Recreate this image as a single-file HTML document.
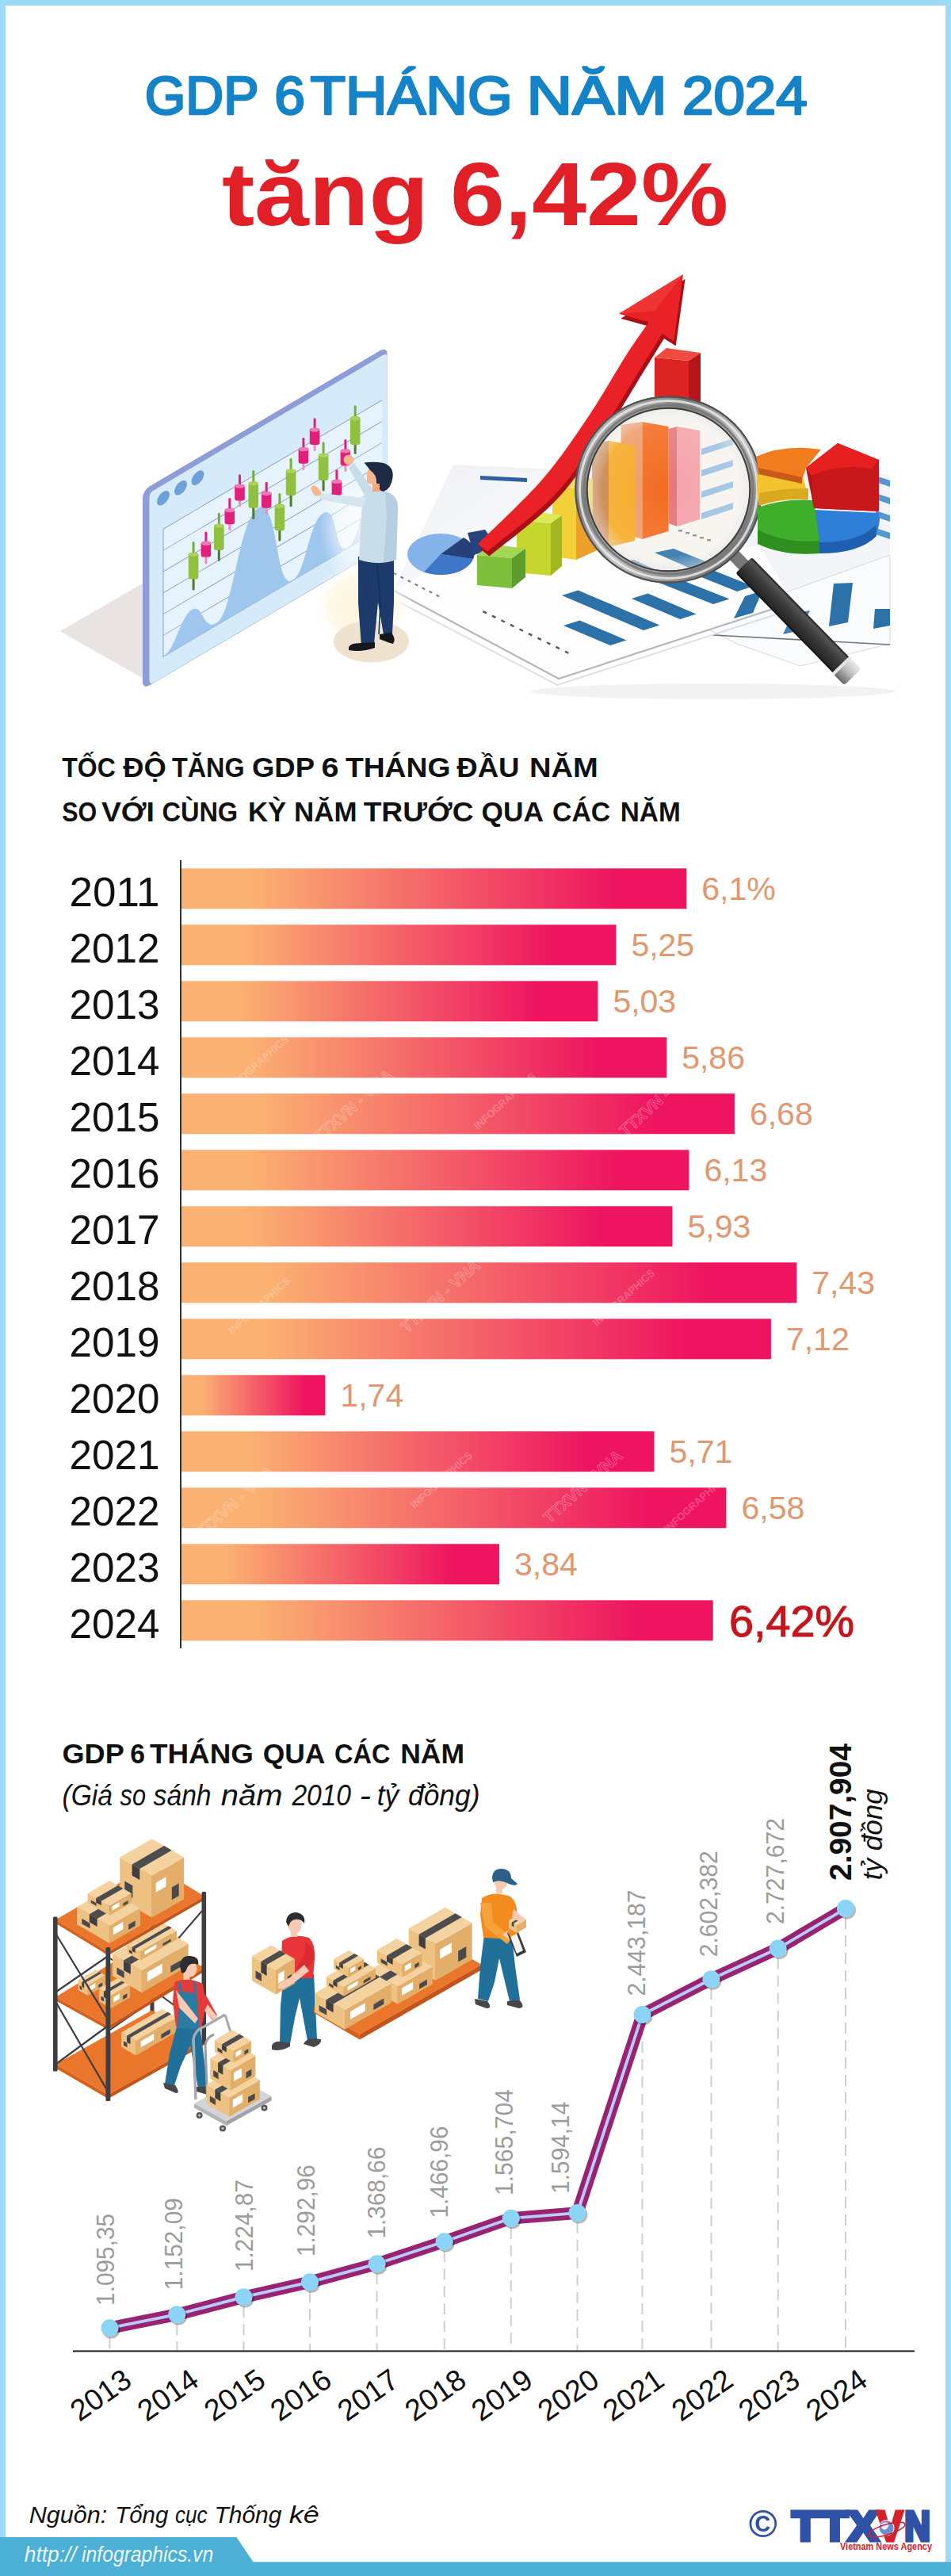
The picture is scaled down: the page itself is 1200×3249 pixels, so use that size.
<!DOCTYPE html>
<html lang="vi"><head><meta charset="utf-8"><title>GDP 6 tháng năm 2024 tăng 6,42%</title>
<style>html,body{margin:0;padding:0;background:#fff}body{width:1200px;height:3249px;overflow-x:hidden}svg{display:block}text{white-space:pre}</style>
</head><body>
<svg width="1200" height="3249" viewBox="0 0 1200 3249" font-family='"Liberation Sans", sans-serif'>
<rect x="0" y="0" width="1200" height="3249" fill="#9ddaf8"/>
<rect x="7" y="7" width="1186" height="3242" fill="#fff"/>
<text x="182.7" y="144.1" font-size="69" font-weight="normal" font-style="normal" fill="#1583c7" text-anchor="start" textLength="143.9" lengthAdjust="spacingAndGlyphs" stroke="#1583c7" stroke-width="2.7" stroke-linejoin="round">GDP</text>
<text x="346.2" y="144.1" font-size="69" font-weight="normal" font-style="normal" fill="#1583c7" text-anchor="start" textLength="38.7" lengthAdjust="spacingAndGlyphs" stroke="#1583c7" stroke-width="2.7" stroke-linejoin="round">6</text>
<text x="391.5" y="144.1" font-size="69" font-weight="normal" font-style="normal" fill="#1583c7" text-anchor="start" textLength="255.1" lengthAdjust="spacingAndGlyphs" stroke="#1583c7" stroke-width="2.7" stroke-linejoin="round">THÁNG</text>
<text x="664.4" y="144.1" font-size="69" font-weight="normal" font-style="normal" fill="#1583c7" text-anchor="start" textLength="177.5" lengthAdjust="spacingAndGlyphs" stroke="#1583c7" stroke-width="2.7" stroke-linejoin="round">NĂM</text>
<text x="861" y="144.1" font-size="69" font-weight="normal" font-style="normal" fill="#1583c7" text-anchor="start" textLength="157.7" lengthAdjust="spacingAndGlyphs" stroke="#1583c7" stroke-width="2.7" stroke-linejoin="round">2024</text>
<text x="279.9" y="283.9" font-size="113.5" font-weight="bold" font-style="normal" fill="#e11f26" text-anchor="start" textLength="261.1" lengthAdjust="spacingAndGlyphs" >tăng</text>
<text x="568" y="283.9" font-size="113.5" font-weight="bold" font-style="normal" fill="#e11f26" text-anchor="start" textLength="351" lengthAdjust="spacingAndGlyphs" >6,42%</text>
<g id="illus1">
<defs>
<linearGradient id="ringg" x1="0" y1="0" x2="1" y2="1"><stop offset="0" stop-color="#cfcfcf"/><stop offset="0.3" stop-color="#7e7e7e"/><stop offset="0.55" stop-color="#c4c4c4"/><stop offset="1" stop-color="#585858"/></linearGradient>
<linearGradient id="hand" x1="0" y1="0" x2="0" y2="1"><stop offset="0" stop-color="#1a1a1a"/><stop offset="0.12" stop-color="#555"/><stop offset="0.45" stop-color="#3c3c3c"/><stop offset="0.9" stop-color="#262626"/><stop offset="1" stop-color="#0a0a0a"/></linearGradient>
<linearGradient id="capg" x1="0" y1="0" x2="0" y2="1"><stop offset="0" stop-color="#eee"/><stop offset="0.5" stop-color="#bbb"/><stop offset="1" stop-color="#666"/></linearGradient>
<radialGradient id="lensg" cx="0.5" cy="0.5" r="0.5"><stop offset="0" stop-color="#fff" stop-opacity="0.0"/><stop offset="0.8" stop-color="#fff" stop-opacity="0.12"/><stop offset="1" stop-color="#e0e0e0" stop-opacity="0.6"/></radialGradient>
<radialGradient id="glow" cx="0.5" cy="0.5" r="0.5"><stop offset="0" stop-color="#fdf3d6" stop-opacity="0.95"/><stop offset="0.65" stop-color="#fdf6e2" stop-opacity="0.75"/><stop offset="1" stop-color="#fff" stop-opacity="0"/></radialGradient>
<radialGradient id="wglow" cx="0.5" cy="0.5" r="0.5"><stop offset="0" stop-color="#fff" stop-opacity="0.75"/><stop offset="0.6" stop-color="#fff" stop-opacity="0.5"/><stop offset="1" stop-color="#fff" stop-opacity="0"/></radialGradient>
<linearGradient id="papg" x1="0" y1="0" x2="1" y2="1"><stop offset="0" stop-color="#eef0f5"/><stop offset="1" stop-color="#ffffff"/></linearGradient>
<clipPath id="lensclip"><circle cx="843.5" cy="617.5" r="104"/></clipPath>
</defs>
<polygon points="75.7,796.2 180.4,735.6 180.4,855.5" fill="#e9e4e1"/>
<ellipse cx="900" cy="872" rx="230" ry="10" fill="#000" opacity="0.05"/>
<polygon points="572,586 700,592 640,700 498,742" fill="#f0f2f6"/>
<polygon points="498,745 570,590 720,596 700,700" fill="url(#papg)" opacity="0.9"/>
<polygon points="930,560 1123,600 1123,760 880,790" fill="#f3f4f8"/>
<polygon points="880,787 1123,700 1123,812 1010,840 930,812" fill="#fafbfd" stroke="#d8dade" stroke-width="1"/>
<polyline points="900,801 1123,813" fill="none" stroke="#555" stroke-width="1.6" opacity="0.8"/>
<polygon points="497,744 600,690 960,690 1000,760 705,856" fill="#fdfdfe"/>
<polyline points="497,745 705,856 1000,760" fill="none" stroke="#9aa0a8" stroke-width="2.2" opacity="0.75"/>
<polyline points="505,760 703,864 1010,765" fill="none" stroke="#c9ccd2" stroke-width="2" opacity="0.6"/>
<polygon points="606,600 665,603 665,608 606,605" fill="#2c5f9e"/>
<ellipse cx="556" cy="699" rx="42" ry="26" fill="#84b3ea"/>
<path d="M556 699 L585 678 A42 26 0 0 1 597 705 Z" fill="#26407a"/>
<path d="M556 699 L597 705 A42 26 0 0 1 535 721.5 Z" fill="#3f77c8"/>
<polygon points="590,672 612,668 628,690 598,700" fill="#27447f"/>
<rect x="610.0" y="770.0" width="5" height="2.4" fill="#555" transform="rotate(27 610.0 770.0)"/>
<rect x="621.5" y="775.6" width="5" height="2.4" fill="#555" transform="rotate(27 621.5 775.6)"/>
<rect x="633.0" y="781.2" width="5" height="2.4" fill="#555" transform="rotate(27 633.0 781.2)"/>
<rect x="644.5" y="786.8" width="5" height="2.4" fill="#555" transform="rotate(27 644.5 786.8)"/>
<rect x="656.0" y="792.4" width="5" height="2.4" fill="#555" transform="rotate(27 656.0 792.4)"/>
<rect x="667.5" y="798.0" width="5" height="2.4" fill="#555" transform="rotate(27 667.5 798.0)"/>
<rect x="679.0" y="803.6" width="5" height="2.4" fill="#555" transform="rotate(27 679.0 803.6)"/>
<rect x="690.5" y="809.2" width="5" height="2.4" fill="#555" transform="rotate(27 690.5 809.2)"/>
<rect x="702.0" y="814.8" width="5" height="2.4" fill="#555" transform="rotate(27 702.0 814.8)"/>
<rect x="713.5" y="820.4" width="5" height="2.4" fill="#555" transform="rotate(27 713.5 820.4)"/>
<rect x="497.0" y="722.0" width="4" height="2" fill="#777" transform="rotate(27 497.0 722.0)"/>
<rect x="506.0" y="726.6" width="4" height="2" fill="#777" transform="rotate(27 506.0 726.6)"/>
<rect x="515.0" y="731.2" width="4" height="2" fill="#777" transform="rotate(27 515.0 731.2)"/>
<rect x="524.0" y="735.8" width="4" height="2" fill="#777" transform="rotate(27 524.0 735.8)"/>
<rect x="533.0" y="740.4" width="4" height="2" fill="#777" transform="rotate(27 533.0 740.4)"/>
<rect x="542.0" y="745.0" width="4" height="2" fill="#777" transform="rotate(27 542.0 745.0)"/>
<rect x="551.0" y="749.6" width="4" height="2" fill="#777" transform="rotate(27 551.0 749.6)"/>
<polygon points="709,751 729.5,744.4 832.5,788.4 812,795" fill="#2c72a8"/>
<polygon points="711,789 731.5,782.4 790.5,807.4 770,814" fill="#2c72a8"/>
<polygon points="797,755 817.5,748.4 878.5,774.4 858,781" fill="#2c72a8"/>
<polygon points="829,734 849.5,727.4 920.5,755.4 900,762" fill="#2c72a8"/>
<polygon points="870,722 890.5,715.4 950.5,739.4 930,746" fill="#2c72a8"/>
<polygon points="926,780 950,773 962,745 940,752" fill="#2c72a8"/>
<polygon points="1046,790 1070,785 1076,735 1052,736" fill="#2c72a8"/>
<polygon points="1102,793 1123,789 1123,768 1104,768" fill="#2c72a8"/>
<polygon points="988,800 1010,795 1022,770 1000,774" fill="#2c72a8" opacity="0.9"/>
<polygon points="1105,600 1123,606 1123,614 1105,608" fill="#3a86c8" opacity="0.85"/>
<polygon points="1105,622 1123,628 1123,636 1105,630" fill="#3a86c8" opacity="0.85"/>
<polygon points="1105,644 1123,650 1123,658 1105,652" fill="#3a86c8" opacity="0.85"/>
<polygon points="1105,666 1123,672 1123,680 1105,674" fill="#3a86c8" opacity="0.85"/>
<polygon points="884,585 930,572 930,580 884,593" fill="#8db9e0" opacity="0.5"/>
<polygon points="884,607 930,594 930,602 884,615" fill="#8db9e0" opacity="0.5"/>
<polygon points="884,629 930,616 930,624 884,637" fill="#8db9e0" opacity="0.5"/>
<g transform="matrix(1,-0.589,0,1,181,618)">
<rect x="-1" y="0" width="308.5" height="251" rx="9" fill="#8e9dd8"/>
<rect x="7.5" y="8" width="300" height="242.5" rx="5" fill="#d6ebfa"/>
<circle cx="25" cy="25" r="8" fill="#6e9fdb"/>
<circle cx="47" cy="25" r="8" fill="#6e9fdb"/>
<circle cx="68.5" cy="25" r="8" fill="#6e9fdb"/>
<rect x="25" y="64" width="276" height="161" fill="#e6f3fc"/>
<line x1="25" y1="64.0" x2="301" y2="64.0" stroke="#7f95d4" stroke-width="0.9"/>
<line x1="25" y1="90.8" x2="301" y2="90.8" stroke="#7f95d4" stroke-width="0.9"/>
<line x1="25" y1="117.7" x2="301" y2="117.7" stroke="#7f95d4" stroke-width="0.9"/>
<line x1="25" y1="144.5" x2="301" y2="144.5" stroke="#7f95d4" stroke-width="0.9"/>
<line x1="25" y1="171.3" x2="301" y2="171.3" stroke="#7f95d4" stroke-width="0.9"/>
<line x1="25" y1="198.1" x2="301" y2="198.1" stroke="#7f95d4" stroke-width="0.9"/>
<line x1="25" y1="225.0" x2="301" y2="225.0" stroke="#7f95d4" stroke-width="0.9"/>
<line x1="25" y1="64" x2="25" y2="225" stroke="#7f95d4" stroke-width="0.9"/>
<path d="M25,225 C40,225 47,187 61,187 C76,187 74,222 92,222 C114,222 120,108 145,108 C170,108 166,225 188,225 C206,225 208,163 227,163 C246,163 240,225 258,225 C272,225 276,172 290,172 L301,172 L301,225 Z" fill="#9fc7ed"/>
</g>
<ellipse cx="452" cy="665" rx="48" ry="75" fill="url(#wglow)"/>
<ellipse cx="458" cy="765" rx="64" ry="56" fill="url(#glow)"/>
<rect x="242.6" y="683.1" width="3" height="16.2" rx="1.5" fill="#79ad33"/>
<rect x="242.6" y="728.4" width="3" height="16.2" rx="1.5" fill="#4f7d22"/>
<rect x="237.8" y="697.3" width="12.6" height="33.1" rx="3" fill="#8fc03f"/>
<ellipse cx="244.1" cy="699.5" rx="6.3" ry="2.6" fill="#a9d35a"/>
<rect x="258.4" y="670.5" width="3" height="14.6" rx="1.5" fill="#e0207c"/>
<rect x="258.4" y="700.6" width="3" height="10.9" rx="1.5" fill="#f48cc0"/>
<rect x="253.6" y="683.1" width="12.6" height="19.5" rx="3" fill="#e0207c"/>
<ellipse cx="259.9" cy="685.3" rx="6.3" ry="2.6" fill="#f07ab6"/>
<rect x="274.8" y="646.8" width="3" height="16.2" rx="1.5" fill="#79ad33"/>
<rect x="274.8" y="692.1" width="3" height="15.6" rx="1.5" fill="#4f7d22"/>
<rect x="270.0" y="661.0" width="12.6" height="33.1" rx="3" fill="#8fc03f"/>
<ellipse cx="276.3" cy="663.2" rx="6.3" ry="2.6" fill="#a9d35a"/>
<rect x="288.3" y="628.0" width="3" height="15.5" rx="1.5" fill="#e0207c"/>
<rect x="288.3" y="659.2" width="3" height="9.8" rx="1.5" fill="#f48cc0"/>
<rect x="283.5" y="641.5" width="12.6" height="19.7" rx="3" fill="#e0207c"/>
<ellipse cx="289.8" cy="643.7" rx="6.3" ry="2.6" fill="#f07ab6"/>
<rect x="301.0" y="598.2" width="3" height="14.7" rx="1.5" fill="#e0207c"/>
<rect x="301.0" y="629.4" width="3" height="9.8" rx="1.5" fill="#f48cc0"/>
<rect x="296.2" y="610.9" width="12.6" height="20.5" rx="3" fill="#e0207c"/>
<ellipse cx="302.5" cy="613.1" rx="6.3" ry="2.6" fill="#f07ab6"/>
<rect x="318.3" y="592.9" width="3" height="16.8" rx="1.5" fill="#79ad33"/>
<rect x="318.3" y="638.8" width="3" height="16.2" rx="1.5" fill="#4f7d22"/>
<rect x="313.5" y="607.7" width="12.6" height="33.1" rx="3" fill="#8fc03f"/>
<ellipse cx="319.8" cy="609.9" rx="6.3" ry="2.6" fill="#a9d35a"/>
<rect x="334.7" y="607.7" width="3" height="14.6" rx="1.5" fill="#e0207c"/>
<rect x="334.7" y="638.8" width="3" height="9.9" rx="1.5" fill="#f48cc0"/>
<rect x="329.9" y="620.3" width="12.6" height="20.5" rx="3" fill="#e0207c"/>
<ellipse cx="336.2" cy="622.5" rx="6.3" ry="2.6" fill="#f07ab6"/>
<rect x="351.4" y="621.9" width="3" height="16.2" rx="1.5" fill="#79ad33"/>
<rect x="351.4" y="667.2" width="3" height="15.3" rx="1.5" fill="#4f7d22"/>
<rect x="346.6" y="636.1" width="12.6" height="33.1" rx="3" fill="#8fc03f"/>
<ellipse cx="352.9" cy="638.3" rx="6.3" ry="2.6" fill="#a9d35a"/>
<rect x="365.6" y="577.7" width="3" height="16.2" rx="1.5" fill="#79ad33"/>
<rect x="365.6" y="623.0" width="3" height="16.2" rx="1.5" fill="#4f7d22"/>
<rect x="360.8" y="591.9" width="12.6" height="33.1" rx="3" fill="#8fc03f"/>
<ellipse cx="367.1" cy="594.1" rx="6.3" ry="2.6" fill="#a9d35a"/>
<rect x="381.4" y="551.9" width="3" height="14.6" rx="1.5" fill="#e0207c"/>
<rect x="381.4" y="582.7" width="3" height="10.2" rx="1.5" fill="#f48cc0"/>
<rect x="376.6" y="564.5" width="12.6" height="20.2" rx="3" fill="#e0207c"/>
<ellipse cx="382.9" cy="566.7" rx="6.3" ry="2.6" fill="#f07ab6"/>
<rect x="395.6" y="527.3" width="3" height="14.6" rx="1.5" fill="#e0207c"/>
<rect x="395.6" y="559.0" width="3" height="9.9" rx="1.5" fill="#f48cc0"/>
<rect x="390.8" y="539.9" width="12.6" height="21.1" rx="3" fill="#e0207c"/>
<ellipse cx="397.1" cy="542.1" rx="6.3" ry="2.6" fill="#f07ab6"/>
<rect x="406.6" y="557.2" width="3" height="16.9" rx="1.5" fill="#79ad33"/>
<rect x="406.6" y="604.1" width="3" height="15.3" rx="1.5" fill="#4f7d22"/>
<rect x="401.8" y="572.1" width="12.6" height="34.0" rx="3" fill="#8fc03f"/>
<ellipse cx="408.1" cy="574.3" rx="6.3" ry="2.6" fill="#a9d35a"/>
<rect x="423.4" y="591.9" width="3" height="15.3" rx="1.5" fill="#e0207c"/>
<rect x="423.4" y="623.0" width="3" height="9.9" rx="1.5" fill="#f48cc0"/>
<rect x="418.6" y="605.2" width="12.6" height="19.8" rx="3" fill="#e0207c"/>
<ellipse cx="424.9" cy="607.4" rx="6.3" ry="2.6" fill="#f07ab6"/>
<rect x="434.4" y="554.1" width="3" height="14.6" rx="1.5" fill="#e0207c"/>
<rect x="434.4" y="585.2" width="3" height="9.8" rx="1.5" fill="#f48cc0"/>
<rect x="429.6" y="566.7" width="12.6" height="20.5" rx="3" fill="#e0207c"/>
<ellipse cx="435.9" cy="568.9" rx="6.3" ry="2.6" fill="#f07ab6"/>
<rect x="446.7" y="511.2" width="3" height="16.2" rx="1.5" fill="#79ad33"/>
<rect x="446.7" y="558.9" width="3" height="13.8" rx="1.5" fill="#4f7d22"/>
<rect x="441.9" y="525.4" width="12.6" height="35.5" rx="3" fill="#8fc03f"/>
<ellipse cx="448.2" cy="527.6" rx="6.3" ry="2.6" fill="#a9d35a"/>
<ellipse cx="468.5" cy="809" rx="47.5" ry="26.5" fill="#efe3cf"/>
<path d="M452 702 L497 700 L497 760 L495 800 L485 806 L477 760 L472 812 L456 816 L452 760 Z" fill="#1c3a6b"/>
<path d="M476 712 L480 760 L478 800" stroke="#15305a" stroke-width="1.5" fill="none"/>
<path d="M440 817 Q441 811 456 811 L473 810 L473 817 Q456 823 440 820 Z" fill="#15171c"/>
<path d="M479 800 L494 798 Q500 806 496 812 Q488 810 479 806 Z" fill="#15171c"/>
<path d="M458 626 Q470 618 486 620 Q502 624 502 640 L500 706 Q478 714 453 706 L456 650 Z" fill="#c9dde9"/>
<path d="M486 620 Q502 624 502 640 L500 706 Q492 709 484 709 L488 650 Z" fill="#b5cfe0"/>
<path d="M462 628 L440 590 L447 584 L474 622 Z" fill="#c9dde9"/>
<path d="M458 640 L404 630 L402 622 L462 628 Z" fill="#d6e6ef"/>
<circle cx="440" cy="580" r="6.5" fill="#f5b78e"/>
<path d="M392 616 q2 -6 8 -2 l6 8 q-4 6 -10 2 Z" fill="#f5b78e"/>
<path d="M463 600 q0 -10 8 -13 l4 22 q-8 4 -12 -2 Z" fill="#f5b78e"/>
<path d="M459.5 583.5 Q472 582 484 584 Q497 588 495.5 602 Q494 616 484 620 Q476 618 475 609 Q475 598 468 594 Z" fill="#1f2a44"/>
<rect x="470" y="610" width="9" height="10" fill="#f0a97c"/>
<polygon points="826,451 869,455 869,668 826,664" fill="#dc2424"/>
<polygon points="869,455 884,445 884,656 869,668" fill="#b31519"/>
<polygon points="826,451 841,439 884,445 869,455" fill="#ef4b41"/>
<polygon points="697,612 727,616 727,706 697,702" fill="#f3cf3a"/>
<polygon points="727,616 756,605 756,693 727,706" fill="#eda12a"/>
<polygon points="697,612 726,599 756,605 727,616" fill="#f8e070"/>
<polygon points="652,656 695,660 695,726 652,722" fill="#c6d62f"/>
<polygon points="695,660 709,650 709,714 695,726" fill="#a3b51f"/>
<polygon points="652,656 666,644 709,650 695,660" fill="#dbe85a"/>
<polygon points="602,700 646,704 646,742 602,738" fill="#7dbe3b"/>
<polygon points="646,704 663,692 663,728 646,742" fill="#5d9d2b"/>
<polygon points="602,700 619,686 663,692 646,704" fill="#a4d653"/>
<g clip-path="url(#lensclip)">
<circle cx="843.5" cy="617.5" r="105" fill="#f7f4ef"/>
<polygon points="885,566 925,553 925,561 885,574" fill="#7fb2de" opacity="0.75"/>
<polygon points="885,593 925,580 925,588 885,601" fill="#7fb2de" opacity="0.75"/>
<polygon points="885,620 925,607 925,615 885,628" fill="#7fb2de" opacity="0.75"/>
<polygon points="885,647 925,634 925,642 885,655" fill="#7fb2de" opacity="0.75"/>
<polygon points="826,697 850,692 900,712 876,719" fill="#2c72a8"/>
<polygon points="770,712 800,706 860,734 830,742" fill="#2c72a8" opacity="0.85"/>
<rect x="856" y="668" width="5" height="2.5" fill="#666" opacity="0.7"/>
<rect x="865" y="671" width="5" height="2.5" fill="#666" opacity="0.7"/>
<rect x="874" y="674" width="5" height="2.5" fill="#666" opacity="0.7"/>
<rect x="883" y="677" width="5" height="2.5" fill="#666" opacity="0.7"/>
<rect x="892" y="680" width="5" height="2.5" fill="#666" opacity="0.7"/>
<polygon points="843.5,541 854.6,538 854.6,664 843.5,660" fill="#e57878"/>
<polygon points="854.6,538 883,543 883,655 854.6,664" fill="#f4a3aa"/>
<polygon points="783.6,536 810.4,532 810.4,680 783.6,672" fill="#ee9c68"/>
<polygon points="810.4,532 843.5,538 843.5,670 810.4,680" fill="#f26c20"/>
<polygon points="747,560 768,556 768,690 747,680" fill="#c7834a"/>
<polygon points="768,556 801,562 801,682 768,690" fill="#f7a925"/>
<polygon points="730,600 748,604 748,690 730,690" fill="#f3cf3a" opacity="0.9"/>
<circle cx="843.5" cy="617.5" r="105" fill="url(#lensg)"/>
</g>
<path d="M603,686 C616.6,672.4 661.2,631.4 684.5,604.5 C707.8,577.6 725.5,550.4 743.0,524.5 C760.5,498.6 776.9,468.7 789.5,449.0 C802.1,429.3 813.8,413.3 818.7,406.2 L780.8,395.7 L862,346.1 L850.2,430.2 L835.5,421 C831.4,427.6 823.2,440.9 811.0,460.5 C798.8,480.1 780.8,511.4 762.5,538.5 C744.2,565.6 725.6,596.8 701.0,623.0 C676.4,649.2 629.3,683.4 615.0,695.5 Z" fill="#a91016" transform="translate(2.5,6)"/>
<path d="M603,686 C616.6,672.4 661.2,631.4 684.5,604.5 C707.8,577.6 725.5,550.4 743.0,524.5 C760.5,498.6 776.9,468.7 789.5,449.0 C802.1,429.3 813.8,413.3 818.7,406.2 L780.8,395.7 L862,346.1 L850.2,430.2 L835.5,421 C831.4,427.6 823.2,440.9 811.0,460.5 C798.8,480.1 780.8,511.4 762.5,538.5 C744.2,565.6 725.6,596.8 701.0,623.0 C676.4,649.2 629.3,683.4 615.0,695.5 Z" fill="#ea2227"/>
<path d="M780.8,395.7 L862,346.1 L826,392 Z" fill="#f0443f" opacity="0.55"/>
<g transform="translate(935.7,710) rotate(45.7)">
<rect x="-14" y="-8" width="26" height="16" fill="#777"/>
<rect x="4" y="-14.2" width="180" height="28.4" rx="3" fill="url(#hand)"/>
<rect x="181" y="-15" width="20" height="30" rx="4" fill="url(#capg)"/>
<rect x="179" y="-15" width="4" height="30" fill="#e4e4e4"/>
</g>
<circle cx="843.5" cy="617.5" r="110" fill="none" stroke="url(#ringg)" stroke-width="16"/>
<circle cx="843.5" cy="617.5" r="117.2" fill="none" stroke="#505050" stroke-width="2.2"/>
<circle cx="843.5" cy="617.5" r="112" fill="none" stroke="#efefef" stroke-width="3" opacity="0.8"/>
<circle cx="843.5" cy="617.5" r="106.5" fill="none" stroke="#7a7a7a" stroke-width="3"/>
<circle cx="843.5" cy="617.5" r="102.8" fill="none" stroke="#3e3e3e" stroke-width="2"/>
<path d="M1027,643 L1109,647 Q1112,660 1105,674 Q1085,694 1034,696 Z" fill="#2f7ed8"/>
<path d="M1105,662 Q1085,684 1034,684 L1034,698 Q1085,698 1106,676 Z" fill="#1f5faf"/>
<path d="M956,640 Q990,628 1027,631 L1034,684 Q990,690 956,672 Z" fill="#3fae2a"/>
<path d="M956,668 Q990,686 1034,682 L1034,698 Q990,702 956,686 Z" fill="#2e8f1f"/>
<path d="M957,592 L1014,604 L1020,628 Q985,628 958,636 Q952,612 957,592 Z" fill="#f2c230"/>
<path d="M958,622 Q985,616 1020,616 L1020,630 Q985,628 958,638 Z" fill="#d9a91f"/>
<path d="M954,576 Q990,560 1036,567 L1017,590 L1012,606 L957,594 Z" fill="#f07c1e"/>
<path d="M957,590 L1012,602 L1012,610 L957,598 Z" fill="#c9581a"/>
<path d="M1017,590 L1057,559 L1109,580 L1109,645 L1027,641 Z" fill="#b81418"/>
<path d="M1017,590 L1057,559 L1109,580 L1100,592 Q1060,584 1024,600 Z" fill="#e5201f"/>
<path d="M1024,600 Q1060,584 1100,592 L1109,580 L1109,645 L1027,641 Z" fill="#c9181c"/>
</g>
<text x="78.3" y="979.9" font-size="34.6" font-weight="bold" font-style="normal" fill="#111" text-anchor="start" textLength="67.6" lengthAdjust="spacingAndGlyphs" >TỐC</text>
<text x="155.2" y="979.9" font-size="34.6" font-weight="bold" font-style="normal" fill="#111" text-anchor="start" textLength="54.6" lengthAdjust="spacingAndGlyphs" >ĐỘ</text>
<text x="217.0" y="979.9" font-size="34.6" font-weight="bold" font-style="normal" fill="#111" text-anchor="start" textLength="91.6" lengthAdjust="spacingAndGlyphs" >TĂNG</text>
<text x="318.0" y="979.9" font-size="34.6" font-weight="bold" font-style="normal" fill="#111" text-anchor="start" textLength="79.0" lengthAdjust="spacingAndGlyphs" >GDP</text>
<text x="405.5" y="979.9" font-size="34.6" font-weight="bold" font-style="normal" fill="#111" text-anchor="start" textLength="22.0" lengthAdjust="spacingAndGlyphs" >6</text>
<text x="435.9" y="979.9" font-size="34.6" font-weight="bold" font-style="normal" fill="#111" text-anchor="start" textLength="132.6" lengthAdjust="spacingAndGlyphs" >THÁNG</text>
<text x="576.2" y="979.9" font-size="34.6" font-weight="bold" font-style="normal" fill="#111" text-anchor="start" textLength="79.4" lengthAdjust="spacingAndGlyphs" >ĐẦU</text>
<text x="668.0" y="979.9" font-size="34.6" font-weight="bold" font-style="normal" fill="#111" text-anchor="start" textLength="86.8" lengthAdjust="spacingAndGlyphs" >NĂM</text>
<text x="78.3" y="1035.8" font-size="34.5" font-weight="bold" font-style="normal" fill="#111" text-anchor="start" textLength="44.0" lengthAdjust="spacingAndGlyphs" >SO</text>
<text x="127.9" y="1035.8" font-size="34.5" font-weight="bold" font-style="normal" fill="#111" text-anchor="start" textLength="67.1" lengthAdjust="spacingAndGlyphs" >VỚI</text>
<text x="204.4" y="1035.8" font-size="34.5" font-weight="bold" font-style="normal" fill="#111" text-anchor="start" textLength="95.8" lengthAdjust="spacingAndGlyphs" >CÙNG</text>
<text x="313.0" y="1035.8" font-size="34.5" font-weight="bold" font-style="normal" fill="#111" text-anchor="start" textLength="48.2" lengthAdjust="spacingAndGlyphs" >KỲ</text>
<text x="371.0" y="1035.8" font-size="34.5" font-weight="bold" font-style="normal" fill="#111" text-anchor="start" textLength="79.5" lengthAdjust="spacingAndGlyphs" >NĂM</text>
<text x="458.7" y="1035.8" font-size="34.5" font-weight="bold" font-style="normal" fill="#111" text-anchor="start" textLength="138.8" lengthAdjust="spacingAndGlyphs" >TRƯỚC</text>
<text x="607.6" y="1035.8" font-size="34.5" font-weight="bold" font-style="normal" fill="#111" text-anchor="start" textLength="78.4" lengthAdjust="spacingAndGlyphs" >QUA</text>
<text x="697.0" y="1035.8" font-size="34.5" font-weight="bold" font-style="normal" fill="#111" text-anchor="start" textLength="73.2" lengthAdjust="spacingAndGlyphs" >CÁC</text>
<text x="782.7" y="1035.8" font-size="34.5" font-weight="bold" font-style="normal" fill="#111" text-anchor="start" textLength="76.0" lengthAdjust="spacingAndGlyphs" >NĂM</text>
<defs><linearGradient id="bg" x1="0" y1="0" x2="1" y2="0">
<stop offset="0" stop-color="#fbb172"/><stop offset="0.14" stop-color="#fbb172"/>
<stop offset="0.86" stop-color="#ee1460"/><stop offset="1" stop-color="#ee1460"/></linearGradient></defs>
<rect x="228.5" y="1095.3" width="637.8" height="51" fill="url(#bg)"/>
<text x="87.5" y="1143.1" font-size="51" font-weight="normal" font-style="normal" fill="#111" text-anchor="start" textLength="114" lengthAdjust="spacingAndGlyphs" >2011</text>
<text x="885.255" y="1134.8" font-size="41" font-weight="normal" font-style="normal" fill="#e2976f" text-anchor="start" >6,1%</text>
<rect x="228.5" y="1166.3" width="548.9" height="51" fill="url(#bg)"/>
<text x="87.5" y="1214.1" font-size="51" font-weight="normal" font-style="normal" fill="#111" text-anchor="start" textLength="114" lengthAdjust="spacingAndGlyphs" >2012</text>
<text x="796.3874999999999" y="1205.8" font-size="41" font-weight="normal" font-style="normal" fill="#e2976f" text-anchor="start" >5,25</text>
<rect x="228.5" y="1237.3" width="525.9" height="51" fill="url(#bg)"/>
<text x="87.5" y="1285.1" font-size="51" font-weight="normal" font-style="normal" fill="#111" text-anchor="start" textLength="114" lengthAdjust="spacingAndGlyphs" >2013</text>
<text x="773.3865" y="1276.8" font-size="41" font-weight="normal" font-style="normal" fill="#e2976f" text-anchor="start" >5,03</text>
<rect x="228.5" y="1308.3" width="612.7" height="51" fill="url(#bg)"/>
<text x="87.5" y="1356.1" font-size="51" font-weight="normal" font-style="normal" fill="#111" text-anchor="start" textLength="114" lengthAdjust="spacingAndGlyphs" >2014</text>
<text x="860.163" y="1347.8" font-size="41" font-weight="normal" font-style="normal" fill="#e2976f" text-anchor="start" >5,86</text>
<rect x="228.5" y="1379.3" width="698.4" height="51" fill="url(#bg)"/>
<text x="87.5" y="1427.1" font-size="51" font-weight="normal" font-style="normal" fill="#111" text-anchor="start" textLength="114" lengthAdjust="spacingAndGlyphs" >2015</text>
<text x="945.894" y="1418.8" font-size="41" font-weight="normal" font-style="normal" fill="#e2976f" text-anchor="start" >6,68</text>
<rect x="228.5" y="1450.3" width="640.9" height="51" fill="url(#bg)"/>
<text x="87.5" y="1498.1" font-size="51" font-weight="normal" font-style="normal" fill="#111" text-anchor="start" textLength="114" lengthAdjust="spacingAndGlyphs" >2016</text>
<text x="888.3915" y="1489.8" font-size="41" font-weight="normal" font-style="normal" fill="#e2976f" text-anchor="start" >6,13</text>
<rect x="228.5" y="1521.3" width="620.0" height="51" fill="url(#bg)"/>
<text x="87.5" y="1569.1" font-size="51" font-weight="normal" font-style="normal" fill="#111" text-anchor="start" textLength="114" lengthAdjust="spacingAndGlyphs" >2017</text>
<text x="867.4815" y="1560.8" font-size="41" font-weight="normal" font-style="normal" fill="#e2976f" text-anchor="start" >5,93</text>
<rect x="228.5" y="1592.3" width="776.8" height="51" fill="url(#bg)"/>
<text x="87.5" y="1640.1" font-size="51" font-weight="normal" font-style="normal" fill="#111" text-anchor="start" textLength="114" lengthAdjust="spacingAndGlyphs" >2018</text>
<text x="1024.3065" y="1631.8" font-size="41" font-weight="normal" font-style="normal" fill="#e2976f" text-anchor="start" >7,43</text>
<rect x="228.5" y="1663.3" width="744.4" height="51" fill="url(#bg)"/>
<text x="87.5" y="1711.1" font-size="51" font-weight="normal" font-style="normal" fill="#111" text-anchor="start" textLength="114" lengthAdjust="spacingAndGlyphs" >2019</text>
<text x="991.896" y="1702.8" font-size="41" font-weight="normal" font-style="normal" fill="#e2976f" text-anchor="start" >7,12</text>
<rect x="228.5" y="1734.3" width="181.9" height="51" fill="url(#bg)"/>
<text x="87.5" y="1782.1" font-size="51" font-weight="normal" font-style="normal" fill="#111" text-anchor="start" textLength="114" lengthAdjust="spacingAndGlyphs" >2020</text>
<text x="429.41700000000003" y="1773.8" font-size="41" font-weight="normal" font-style="normal" fill="#e2976f" text-anchor="start" >1,74</text>
<rect x="228.5" y="1805.3" width="597.0" height="51" fill="url(#bg)"/>
<text x="87.5" y="1853.1" font-size="51" font-weight="normal" font-style="normal" fill="#111" text-anchor="start" textLength="114" lengthAdjust="spacingAndGlyphs" >2021</text>
<text x="844.4805" y="1844.8" font-size="41" font-weight="normal" font-style="normal" fill="#e2976f" text-anchor="start" >5,71</text>
<rect x="228.5" y="1876.3" width="687.9" height="51" fill="url(#bg)"/>
<text x="87.5" y="1924.1" font-size="51" font-weight="normal" font-style="normal" fill="#111" text-anchor="start" textLength="114" lengthAdjust="spacingAndGlyphs" >2022</text>
<text x="935.439" y="1915.8" font-size="41" font-weight="normal" font-style="normal" fill="#e2976f" text-anchor="start" >6,58</text>
<rect x="228.5" y="1947.3" width="401.5" height="51" fill="url(#bg)"/>
<text x="87.5" y="1995.1" font-size="51" font-weight="normal" font-style="normal" fill="#111" text-anchor="start" textLength="114" lengthAdjust="spacingAndGlyphs" >2023</text>
<text x="648.972" y="1986.8" font-size="41" font-weight="normal" font-style="normal" fill="#e2976f" text-anchor="start" >3,84</text>
<rect x="228.5" y="2018.3" width="671.2" height="51" fill="url(#bg)"/>
<text x="87.5" y="2066.1" font-size="51" font-weight="normal" font-style="normal" fill="#111" text-anchor="start" textLength="114" lengthAdjust="spacingAndGlyphs" >2024</text>
<text x="920" y="2063.7" font-size="55" font-weight="normal" font-style="normal" fill="#c4161c" text-anchor="start" textLength="158" lengthAdjust="spacingAndGlyphs" stroke="#c4161c" stroke-width="1.1">6,42%</text>
<rect x="227" y="1085" width="2" height="994" fill="#333"/>
<text x="0" y="0" font-size="13" font-weight="bold" fill="#fff" opacity="0.22" text-anchor="middle" transform="translate(328,1345) rotate(-42)">INFOGRAPHICS</text>
<text x="0" y="0" font-size="20" font-weight="bold" fill="none" stroke="#fff" stroke-width="0.8" opacity="0.3" text-anchor="middle" transform="translate(450,1400) rotate(-42)">TTXVN - VNA</text>
<text x="0" y="0" font-size="13" font-weight="bold" fill="#fff" opacity="0.22" text-anchor="middle" transform="translate(640,1392) rotate(-42)">INFOGRAPHICS</text>
<text x="0" y="0" font-size="20" font-weight="bold" fill="none" stroke="#fff" stroke-width="0.8" opacity="0.3" text-anchor="middle" transform="translate(836,1392) rotate(-42)">TTXVN - VNA</text>
<text x="0" y="0" font-size="13" font-weight="bold" fill="#fff" opacity="0.22" text-anchor="middle" transform="translate(330,1650) rotate(-42)">INFOGRAPHICS</text>
<text x="0" y="0" font-size="20" font-weight="bold" fill="none" stroke="#fff" stroke-width="0.8" opacity="0.3" text-anchor="middle" transform="translate(560,1640) rotate(-42)">TTXVN - VNA</text>
<text x="0" y="0" font-size="13" font-weight="bold" fill="#fff" opacity="0.22" text-anchor="middle" transform="translate(790,1640) rotate(-42)">INFOGRAPHICS</text>
<text x="0" y="0" font-size="20" font-weight="bold" fill="none" stroke="#fff" stroke-width="0.8" opacity="0.3" text-anchor="middle" transform="translate(300,1900) rotate(-42)">TTXVN - VNA</text>
<text x="0" y="0" font-size="13" font-weight="bold" fill="#fff" opacity="0.22" text-anchor="middle" transform="translate(560,1870) rotate(-42)">INFOGRAPHICS</text>
<text x="0" y="0" font-size="20" font-weight="bold" fill="none" stroke="#fff" stroke-width="0.8" opacity="0.3" text-anchor="middle" transform="translate(740,1880) rotate(-42)">TTXVN - VNA</text>
<text x="0" y="0" font-size="13" font-weight="bold" fill="#fff" opacity="0.22" text-anchor="middle" transform="translate(880,1900) rotate(-42)">INFOGRAPHICS</text>
<text x="78.5" y="2224.3" font-size="34.5" font-weight="bold" font-style="normal" fill="#111" text-anchor="start" textLength="78.3" lengthAdjust="spacingAndGlyphs" >GDP</text>
<text x="164.3" y="2224.3" font-size="34.5" font-weight="bold" font-style="normal" fill="#111" text-anchor="start" textLength="18.7" lengthAdjust="spacingAndGlyphs" >6</text>
<text x="188.9" y="2224.3" font-size="34.5" font-weight="bold" font-style="normal" fill="#111" text-anchor="start" textLength="131.1" lengthAdjust="spacingAndGlyphs" >THÁNG</text>
<text x="331.7" y="2224.3" font-size="34.5" font-weight="bold" font-style="normal" fill="#111" text-anchor="start" textLength="78.7" lengthAdjust="spacingAndGlyphs" >QUA</text>
<text x="422.0" y="2224.3" font-size="34.5" font-weight="bold" font-style="normal" fill="#111" text-anchor="start" textLength="70.4" lengthAdjust="spacingAndGlyphs" >CÁC</text>
<text x="505.2" y="2224.3" font-size="34.5" font-weight="bold" font-style="normal" fill="#111" text-anchor="start" textLength="80.9" lengthAdjust="spacingAndGlyphs" >NĂM</text>
<text x="78.5" y="2277.4" font-size="36" font-weight="normal" font-style="italic" fill="#111" text-anchor="start" textLength="63.5" lengthAdjust="spacingAndGlyphs" >(Giá</text>
<text x="151.6" y="2277.4" font-size="36" font-weight="normal" font-style="italic" fill="#111" text-anchor="start" textLength="32.4" lengthAdjust="spacingAndGlyphs" >so</text>
<text x="193.6" y="2277.4" font-size="36" font-weight="normal" font-style="italic" fill="#111" text-anchor="start" textLength="73.0" lengthAdjust="spacingAndGlyphs" >sánh</text>
<text x="278.8" y="2277.4" font-size="36" font-weight="normal" font-style="italic" fill="#111" text-anchor="start" textLength="77.7" lengthAdjust="spacingAndGlyphs" >năm</text>
<text x="368.4" y="2277.4" font-size="36" font-weight="normal" font-style="italic" fill="#111" text-anchor="start" textLength="74.6" lengthAdjust="spacingAndGlyphs" >2010</text>
<text x="453.6" y="2277.4" font-size="36" font-weight="normal" font-style="italic" fill="#111" text-anchor="start" textLength="14.6" lengthAdjust="spacingAndGlyphs" >-</text>
<text x="475.7" y="2277.4" font-size="36" font-weight="normal" font-style="italic" fill="#111" text-anchor="start" textLength="27.3" lengthAdjust="spacingAndGlyphs" >tỷ</text>
<text x="515.0" y="2277.4" font-size="36" font-weight="normal" font-style="italic" fill="#111" text-anchor="start" textLength="90.5" lengthAdjust="spacingAndGlyphs" >đồng)</text>
<g id="illus2">
<rect x="189.5" y="2340" width="5" height="200" fill="#3d3d42"/>
<polygon points="70.2,2603.4 136.5,2642.0 258.0,2574.0 191.7,2535.4" fill="#ea762b"/>
<polygon points="70.2,2603.4 136.5,2642.0 136.5,2647.0 70.2,2608.4" fill="#d4601c"/>
<polygon points="136.5,2642.0 258.0,2574.0 258.0,2579.0 136.5,2647.0" fill="#c4541a"/>
<line x1="139" y1="2470" x2="255" y2="2555" stroke="#3d3d42" stroke-width="2"/>
<line x1="139" y1="2545" x2="255" y2="2410" stroke="#3d3d42" stroke-width="2"/>
<line x1="139" y1="2560" x2="255" y2="2480" stroke="#3d3d42" stroke-width="2"/>
<polygon points="153.1,2563.4 171.5,2574.0 171.5,2592.4 153.1,2581.8" fill="#eec283"/>
<polygon points="171.5,2574.0 223.0,2544.3 223.0,2562.7 171.5,2592.4" fill="#e2ae69"/>
<polygon points="153.1,2563.4 171.5,2574.0 223.0,2544.3 204.6,2533.7" fill="#f4d3a0"/>
<polygon points="160.1,2567.4 164.5,2570.0 216.0,2540.3 211.6,2537.7" fill="#4d4d50"/>
<polygon points="160.1,2567.4 164.5,2570.0 164.5,2578.2 160.1,2575.7" fill="#3f3f42"/>
<polygon points="177.7,2574.5 194.2,2565.0 194.2,2572.7 177.7,2582.2" fill="#fff"/>
<polygon points="203.4,2565.7 214.8,2559.2 214.8,2564.7 203.4,2571.2" fill="#4a4a4c"/>
<polygon points="155.9,2574.2 160.5,2576.8 160.5,2582.3 155.9,2579.7" fill="#4a4a4c"/>
<polygon points="70.2,2518.7 136.5,2555.5 258.0,2482.0 191.7,2445.2" fill="#ea762b"/>
<polygon points="70.2,2518.7 136.5,2555.5 136.5,2560.0 70.2,2523.2" fill="#d4601c"/>
<polygon points="136.5,2555.5 258.0,2482.0 258.0,2486.5 136.5,2560.0" fill="#c4541a"/>
<polygon points="98.7,2497.1 110.7,2504.0 110.7,2517.0 98.7,2510.1" fill="#eec283"/>
<polygon points="110.7,2504.0 132.7,2491.3 132.7,2504.3 110.7,2517.0" fill="#e2ae69"/>
<polygon points="98.7,2497.1 110.7,2504.0 132.7,2491.3 120.7,2484.4" fill="#f4d3a0"/>
<polygon points="103.3,2499.7 106.1,2501.4 128.1,2488.7 125.3,2487.0" fill="#4d4d50"/>
<polygon points="103.3,2499.7 106.1,2501.4 106.1,2507.2 103.3,2505.6" fill="#3f3f42"/>
<polygon points="113.3,2505.3 120.4,2501.3 120.4,2506.7 113.3,2510.8" fill="#fff"/>
<polygon points="124.3,2503.3 129.2,2500.5 129.2,2504.4 124.3,2507.2" fill="#4a4a4c"/>
<polygon points="100.5,2504.6 103.5,2506.3 103.5,2510.2 100.5,2508.5" fill="#4a4a4c"/>
<polygon points="125.2,2508.3 140.2,2517.0 140.2,2533.0 125.2,2524.3" fill="#eec283"/>
<polygon points="140.2,2517.0 164.2,2503.2 164.2,2519.2 140.2,2533.0" fill="#e2ae69"/>
<polygon points="125.2,2508.3 140.2,2517.0 164.2,2503.2 149.2,2494.5" fill="#f4d3a0"/>
<polygon points="130.9,2511.6 134.5,2513.7 158.5,2499.9 154.9,2497.8" fill="#4d4d50"/>
<polygon points="130.9,2511.6 134.5,2513.7 134.5,2520.9 130.9,2518.8" fill="#3f3f42"/>
<polygon points="143.1,2518.9 150.8,2514.4 150.8,2521.1 143.1,2525.6" fill="#fff"/>
<polygon points="155.1,2517.2 160.4,2514.2 160.4,2519.0 155.1,2522.0" fill="#4a4a4c"/>
<polygon points="127.4,2517.6 131.2,2519.8 131.2,2524.6 127.4,2522.4" fill="#4a4a4c"/>
<polygon points="142.0,2464.4 178.8,2485.6 178.8,2513.2 142.0,2492.0" fill="#eec283"/>
<polygon points="178.8,2485.6 237.7,2451.6 237.7,2479.2 178.8,2513.2" fill="#e2ae69"/>
<polygon points="142.0,2464.4 178.8,2485.6 237.7,2451.6 200.9,2430.4" fill="#f4d3a0"/>
<polygon points="156.0,2472.4 164.8,2477.5 223.7,2443.5 214.9,2438.4" fill="#4d4d50"/>
<polygon points="156.0,2472.4 164.8,2477.5 164.8,2490.0 156.0,2484.9" fill="#3f3f42"/>
<polygon points="185.9,2487.6 204.7,2476.7 204.7,2488.3 185.9,2499.2" fill="#fff"/>
<polygon points="215.3,2479.7 228.3,2472.2 228.3,2480.5 215.3,2488.0" fill="#4a4a4c"/>
<polygon points="147.5,2481.4 156.7,2486.7 156.7,2494.9 147.5,2489.6" fill="#4a4a4c"/>
<polygon points="160.4,2452.1 177.0,2461.7 177.0,2472.7 160.4,2463.1" fill="#eec283"/>
<polygon points="177.0,2461.7 223.0,2435.2 223.0,2446.2 177.0,2472.7" fill="#e2ae69"/>
<polygon points="160.4,2452.1 177.0,2461.7 223.0,2435.2 206.4,2425.6" fill="#f4d3a0"/>
<polygon points="166.7,2455.8 170.7,2458.1 216.7,2431.5 212.7,2429.2" fill="#4d4d50"/>
<polygon points="166.7,2455.8 170.7,2458.1 170.7,2463.0 166.7,2460.7" fill="#3f3f42"/>
<polygon points="182.5,2460.9 197.2,2452.4 197.2,2457.1 182.5,2465.6" fill="#fff"/>
<polygon points="205.5,2451.3 215.6,2445.5 215.6,2448.8 205.5,2454.6" fill="#4a4a4c"/>
<polygon points="162.9,2459.1 167.0,2461.5 167.0,2464.8 162.9,2462.4" fill="#4a4a4c"/>
<polygon points="70.2,2421.2 136.5,2461.7 258.0,2391.8 191.7,2351.3" fill="#ea762b"/>
<polygon points="70.2,2421.2 136.5,2461.7 136.5,2466.2 70.2,2425.7" fill="#d4601c"/>
<polygon points="136.5,2461.7 258.0,2391.8 258.0,2396.3 136.5,2466.2" fill="#c4541a"/>
<polygon points="151.2,2342.6 191.7,2366.0 191.7,2418.6 151.2,2395.2" fill="#eec283"/>
<polygon points="191.7,2366.0 232.2,2342.6 232.2,2395.2 191.7,2418.6" fill="#e2ae69"/>
<polygon points="151.2,2342.6 191.7,2366.0 232.2,2342.6 191.7,2319.3" fill="#f4d3a0"/>
<polygon points="166.6,2351.5 176.3,2357.1 216.8,2333.8 207.1,2328.1" fill="#4d4d50"/>
<polygon points="166.6,2351.5 176.3,2357.1 176.3,2371.1 166.6,2365.5" fill="#3f3f42"/>
<polygon points="196.6,2374.8 209.5,2367.3 209.5,2379.3 196.6,2386.8" fill="#fff"/>
<polygon points="216.8,2380.4 225.7,2375.3 225.7,2391.1 216.8,2396.2" fill="#4a4a4c"/>
<polygon points="157.3,2372.4 167.4,2378.3 167.4,2394.1 157.3,2388.2" fill="#4a4a4c"/>
<polygon points="97.1,2405.2 138.3,2429.0 138.3,2451.0 97.1,2427.2" fill="#eec283"/>
<polygon points="138.3,2429.0 176.9,2406.7 176.9,2428.7 138.3,2451.0" fill="#e2ae69"/>
<polygon points="97.1,2405.2 138.3,2429.0 176.9,2406.7 135.7,2383.0" fill="#f4d3a0"/>
<polygon points="112.8,2414.3 122.6,2420.0 161.2,2397.7 151.4,2392.0" fill="#4d4d50"/>
<polygon points="112.8,2414.3 122.6,2420.0 122.6,2429.9 112.8,2424.2" fill="#3f3f42"/>
<polygon points="142.9,2431.2 155.3,2424.0 155.3,2433.3 142.9,2440.4" fill="#fff"/>
<polygon points="162.2,2427.3 170.7,2422.4 170.7,2429.0 162.2,2433.9" fill="#4a4a4c"/>
<polygon points="103.3,2419.8 113.6,2425.7 113.6,2432.3 103.3,2426.4" fill="#4a4a4c"/>
<polygon points="110.7,2388.0 138.3,2403.9 138.3,2415.9 110.7,2400.0" fill="#eec283"/>
<polygon points="138.3,2403.9 165.9,2388.0 165.9,2400.0 138.3,2415.9" fill="#e2ae69"/>
<polygon points="110.7,2388.0 138.3,2403.9 165.9,2388.0 138.3,2372.0" fill="#f4d3a0"/>
<polygon points="121.2,2394.0 127.8,2397.8 155.4,2381.9 148.8,2378.1" fill="#4d4d50"/>
<polygon points="121.2,2394.0 127.8,2397.8 127.8,2403.2 121.2,2399.4" fill="#3f3f42"/>
<polygon points="141.6,2404.6 150.4,2399.5 150.4,2404.6 141.6,2409.7" fill="#fff"/>
<polygon points="155.4,2400.6 161.5,2397.1 161.5,2400.7 155.4,2404.2" fill="#4a4a4c"/>
<polygon points="114.8,2396.4 121.7,2400.3 121.7,2403.9 114.8,2400.0" fill="#4a4a4c"/>
<line x1="71" y1="2440" x2="135" y2="2545" stroke="#3d3d42" stroke-width="2.2"/>
<line x1="71" y1="2512" x2="135" y2="2468" stroke="#3d3d42" stroke-width="2.2"/>
<line x1="71" y1="2526" x2="135" y2="2636" stroke="#3d3d42" stroke-width="2.2"/>
<line x1="71" y1="2603" x2="135" y2="2556" stroke="#3d3d42" stroke-width="2.2"/>
<rect x="67" y="2417.5" width="5.6" height="195" rx="1.5" fill="#3d3d42"/>
<rect x="133.5" y="2456" width="5.8" height="194" rx="1.5" fill="#3d3d42"/>
<rect x="254.5" y="2386" width="5.6" height="192" rx="1.5" fill="#3d3d42"/>
<path d="M224 2553 L252 2553 L258 2600 L262 2632 L250 2634 L240 2580 L228 2606 L220 2630 L208 2628 L214 2590 Z" fill="#21709a"/>
<path d="M206 2627 L221 2630 Q228 2640 222 2640 L208 2634 Z" fill="#47474b"/>
<path d="M248 2632 L262 2632 Q268 2641 262 2642 L248 2638 Z" fill="#47474b"/>
<path d="M220 2500 Q236 2492 256 2502 L260 2530 L254 2558 L222 2556 L218 2525 Z" fill="#e53a3a"/>
<path d="M226 2512 L248 2514 L252 2560 L224 2558 Z" fill="#2b7ba3"/>
<path d="M226 2500 L229 2514 M246 2500 L247 2514" stroke="#2b7ba3" stroke-width="3.5" fill="none"/>
<path d="M252 2506 L262 2520 L274 2542 L268 2548 L254 2530 Z" fill="#e53a3a"/>
<path d="M262 2528 L276 2546 L272 2551 L258 2536 Z" fill="#f9c9b2"/>
<path d="M222 2510 L226 2532 L246 2552 L250 2546 L236 2528 Z" fill="#f9c9b2"/>
<rect x="231.5" y="2488" width="8" height="9" fill="#f9c9b2"/>
<ellipse cx="240" cy="2483" rx="8.5" ry="10.5" fill="#f9c9b2"/>
<path d="M227 2480 Q228 2466 240 2467 Q252 2468 250 2478 Q240 2474 236 2482 Q234 2490 229 2488 Z" fill="#2d2c33"/>
<path d="M247 2648 L244 2572 Q246 2560 258 2556 L284 2541" stroke="#a9abb0" stroke-width="3.4" fill="none"/>
<path d="M262 2655 L259 2580 Q260 2570 270 2566" stroke="#9a9ca1" stroke-width="3" fill="none"/>
<path d="M284 2541 L292 2566" stroke="#a9abb0" stroke-width="3" fill="none"/>
<circle cx="251.7" cy="2668" r="4" fill="#555"/><circle cx="251.7" cy="2668" r="1.6" fill="#ccc"/>
<circle cx="281" cy="2684.5" r="4" fill="#555"/><circle cx="281" cy="2684.5" r="1.6" fill="#ccc"/>
<circle cx="333.5" cy="2658.5" r="4" fill="#555"/><circle cx="333.5" cy="2658.5" r="1.6" fill="#ccc"/>
<polygon points="245,2653 285.5,2675.5 342.6,2644 302,2622" fill="#d3d4d7"/>
<polygon points="245,2653 285.5,2675.5 285.5,2681 245,2658.5" fill="#b3b4b8"/>
<polygon points="285.5,2675.5 342.6,2644 342.6,2649.5 285.5,2681" fill="#a2a3a8"/>
<polygon points="260.5,2629.1 289.2,2645.7 289.2,2669.7 260.5,2653.1" fill="#eec283"/>
<polygon points="289.2,2645.7 327.8,2623.4 327.8,2647.4 289.2,2669.7" fill="#e2ae69"/>
<polygon points="260.5,2629.1 289.2,2645.7 327.8,2623.4 299.1,2606.9" fill="#f4d3a0"/>
<polygon points="271.4,2635.4 278.3,2639.4 316.9,2617.1 310.0,2613.2" fill="#4d4d50"/>
<polygon points="271.4,2635.4 278.3,2639.4 278.3,2650.2 271.4,2646.2" fill="#3f3f42"/>
<polygon points="293.8,2648.3 306.2,2641.2 306.2,2651.3 293.8,2658.4" fill="#fff"/>
<polygon points="313.1,2645.1 321.6,2640.2 321.6,2647.4 313.1,2652.3" fill="#4a4a4c"/>
<polygon points="264.8,2643.6 272.0,2647.8 272.0,2655.0 264.8,2650.8" fill="#4a4a4c"/>
<polygon points="265.3,2595.9 291.1,2610.8 291.1,2636.6 265.3,2621.7" fill="#eec283"/>
<polygon points="291.1,2610.8 322.4,2592.7 322.4,2618.5 291.1,2636.6" fill="#e2ae69"/>
<polygon points="265.3,2595.9 291.1,2610.8 322.4,2592.7 296.6,2577.9" fill="#f4d3a0"/>
<polygon points="275.1,2601.6 281.3,2605.1 312.6,2587.1 306.4,2583.5" fill="#4d4d50"/>
<polygon points="275.1,2601.6 281.3,2605.1 281.3,2616.8 275.1,2613.2" fill="#3f3f42"/>
<polygon points="294.9,2614.3 304.9,2608.5 304.9,2619.4 294.9,2625.1" fill="#fff"/>
<polygon points="310.5,2613.8 317.4,2609.8 317.4,2617.6 310.5,2621.5" fill="#4a4a4c"/>
<polygon points="269.2,2611.0 275.6,2614.8 275.6,2622.5 269.2,2618.8" fill="#4a4a4c"/>
<polygon points="270.9,2573.0 294.8,2586.8 294.8,2601.5 270.9,2587.7" fill="#eec283"/>
<polygon points="294.8,2586.8 316.8,2574.1 316.8,2588.8 294.8,2601.5" fill="#e2ae69"/>
<polygon points="270.9,2573.0 294.8,2586.8 316.8,2574.1 292.9,2560.3" fill="#f4d3a0"/>
<polygon points="280.0,2578.3 285.7,2581.6 307.7,2568.9 302.0,2565.6" fill="#4d4d50"/>
<polygon points="280.0,2578.3 285.7,2581.6 285.7,2588.2 280.0,2584.9" fill="#3f3f42"/>
<polygon points="297.4,2588.5 304.5,2584.4 304.5,2590.6 297.4,2594.7" fill="#fff"/>
<polygon points="308.4,2587.0 313.3,2584.2 313.3,2588.6 308.4,2591.4" fill="#4a4a4c"/>
<polygon points="274.5,2582.4 280.5,2585.9 280.5,2590.3 274.5,2586.8" fill="#4a4a4c"/>
<path d="M358 2490 L396 2490 L398 2530 L400 2572 L388 2574 L378 2520 L372 2545 L366 2578 L353 2578 L354 2530 Z" fill="#21709a"/>
<path d="M343 2580 Q345 2574 356 2575 L366 2577 L366 2581 Q354 2588 343 2585 Z" fill="#47474b"/>
<path d="M383 2578 Q386 2571 396 2571 L405 2572 Q406 2578 396 2582 Z" fill="#47474b"/>
<path d="M356 2448 Q370 2438 390 2444 Q398 2452 397 2470 L395 2495 L358 2495 L355 2470 Z" fill="#e8353a"/>
<path d="M386 2450 Q398 2456 396 2472 L384 2486 L374 2482 L384 2466 Z" fill="#d92c32"/>
<rect x="367" y="2434" width="8" height="9" fill="#f9c9b2"/>
<ellipse cx="372" cy="2428" rx="8.5" ry="10.5" fill="#f9c9b2"/>
<path d="M361 2424 Q362 2412 374 2412 Q386 2414 384 2426 Q380 2420 372 2421 Q366 2422 364 2430 Z" fill="#2d2c33"/>
<polygon points="318.0,2467.3 348.0,2484.6 348.0,2515.6 318.0,2498.3" fill="#eec283"/>
<polygon points="348.0,2484.6 372.0,2470.8 372.0,2501.8 348.0,2515.6" fill="#e2ae69"/>
<polygon points="318.0,2467.3 348.0,2484.6 372.0,2470.8 342.0,2453.4" fill="#f4d3a0"/>
<polygon points="329.4,2473.9 336.6,2478.0 360.6,2464.2 353.4,2460.0" fill="#4d4d50"/>
<polygon points="329.4,2473.9 336.6,2478.0 336.6,2492.0 329.4,2487.8" fill="#3f3f42"/>
<polygon points="350.9,2489.8 358.6,2485.3 358.6,2497.3 350.9,2501.8" fill="#fff"/>
<polygon points="362.9,2493.1 368.2,2490.0 368.2,2499.3 362.9,2502.4" fill="#4a4a4c"/>
<polygon points="322.5,2485.4 330.0,2489.7 330.0,2499.0 322.5,2494.7" fill="#4a4a4c"/>
<path d="M384 2478 L366 2494 L352 2502 L350 2508 L358 2508 L372 2500 L390 2486 Z" fill="#f9c9b2"/>
<polygon points="395.9,2531.8 453.8,2565.8 607.7,2477.9 549.8,2443.9" fill="#ea762b"/>
<polygon points="395.9,2531.8 453.8,2565.8 453.8,2572.5 395.9,2538.5" fill="#d4601c"/>
<polygon points="453.8,2565.8 607.7,2477.9 607.7,2484.6 453.8,2572.5" fill="#c4541a"/>
<polygon points="515.7,2432.3 549.7,2451.9 549.7,2497.9 515.7,2478.3" fill="#eec283"/>
<polygon points="549.7,2451.9 595.7,2425.4 595.7,2471.4 549.7,2497.9" fill="#e2ae69"/>
<polygon points="515.7,2432.3 549.7,2451.9 595.7,2425.4 561.7,2405.7" fill="#f4d3a0"/>
<polygon points="528.6,2439.7 536.8,2444.4 582.8,2417.9 574.6,2413.2" fill="#4d4d50"/>
<polygon points="528.6,2439.7 536.8,2444.4 536.8,2458.4 528.6,2453.7" fill="#3f3f42"/>
<polygon points="555.2,2458.8 569.9,2450.3 569.9,2462.3 555.2,2470.8" fill="#fff"/>
<polygon points="578.2,2460.7 588.3,2454.9 588.3,2468.7 578.2,2474.5" fill="#4a4a4c"/>
<polygon points="520.8,2458.2 529.3,2463.1 529.3,2476.9 520.8,2472.0" fill="#4a4a4c"/>
<polygon points="465.8,2485.0 501.8,2505.8 501.8,2527.8 465.8,2507.0" fill="#eec283"/>
<polygon points="501.8,2505.8 545.8,2480.4 545.8,2502.4 501.8,2527.8" fill="#e2ae69"/>
<polygon points="465.8,2485.0 501.8,2505.8 545.8,2480.4 509.8,2459.6" fill="#f4d3a0"/>
<polygon points="479.5,2492.9 488.1,2497.9 532.1,2472.5 523.5,2467.5" fill="#4d4d50"/>
<polygon points="479.5,2492.9 488.1,2497.9 488.1,2507.8 479.5,2502.8" fill="#3f3f42"/>
<polygon points="507.1,2507.6 521.2,2499.5 521.2,2508.7 507.1,2516.8" fill="#fff"/>
<polygon points="529.1,2502.2 538.8,2496.6 538.8,2503.2 529.1,2508.8" fill="#4a4a4c"/>
<polygon points="471.2,2499.1 480.2,2504.3 480.2,2510.9 471.2,2505.7" fill="#4a4a4c"/>
<polygon points="475.8,2459.4 507.8,2477.9 507.8,2493.9 475.8,2475.4" fill="#eec283"/>
<polygon points="507.8,2477.9 532.6,2463.6 532.6,2479.6 507.8,2493.9" fill="#e2ae69"/>
<polygon points="475.8,2459.4 507.8,2477.9 532.6,2463.6 500.6,2445.1" fill="#f4d3a0"/>
<polygon points="488.0,2466.5 495.6,2470.9 520.4,2456.6 512.8,2452.1" fill="#4d4d50"/>
<polygon points="488.0,2466.5 495.6,2470.9 495.6,2478.1 488.0,2473.7" fill="#3f3f42"/>
<polygon points="510.8,2479.7 518.7,2475.1 518.7,2481.8 510.8,2486.4" fill="#fff"/>
<polygon points="523.2,2477.8 528.6,2474.7 528.6,2479.5 523.2,2482.6" fill="#4a4a4c"/>
<polygon points="480.6,2470.2 488.6,2474.8 488.6,2479.6 480.6,2475.0" fill="#4a4a4c"/>
<polygon points="397.0,2513.9 435.0,2535.8 435.0,2559.8 397.0,2537.9" fill="#eec283"/>
<polygon points="435.0,2535.8 493.7,2501.9 493.7,2525.9 435.0,2559.8" fill="#e2ae69"/>
<polygon points="397.0,2513.9 435.0,2535.8 493.7,2501.9 455.7,2480.0" fill="#f4d3a0"/>
<polygon points="411.4,2522.2 420.6,2527.5 479.3,2493.6 470.1,2488.3" fill="#4d4d50"/>
<polygon points="411.4,2522.2 420.6,2527.5 420.6,2538.3 411.4,2533.0" fill="#3f3f42"/>
<polygon points="442.0,2537.0 460.8,2526.2 460.8,2536.3 442.0,2547.1" fill="#fff"/>
<polygon points="471.4,2528.0 484.3,2520.5 484.3,2527.7 471.4,2535.2" fill="#4a4a4c"/>
<polygon points="402.7,2529.2 412.2,2534.6 412.2,2541.8 402.7,2536.4" fill="#4a4a4c"/>
<polygon points="411.9,2493.1 433.9,2505.8 433.9,2517.8 411.9,2505.1" fill="#eec283"/>
<polygon points="433.9,2505.8 473.9,2482.7 473.9,2494.7 433.9,2517.8" fill="#e2ae69"/>
<polygon points="411.9,2493.1 433.9,2505.8 473.9,2482.7 451.9,2470.0" fill="#f4d3a0"/>
<polygon points="420.3,2497.9 425.5,2501.0 465.5,2477.9 460.3,2474.8" fill="#4d4d50"/>
<polygon points="420.3,2497.9 425.5,2501.0 425.5,2506.4 420.3,2503.3" fill="#3f3f42"/>
<polygon points="438.7,2505.7 451.5,2498.3 451.5,2503.3 438.7,2510.7" fill="#fff"/>
<polygon points="458.7,2498.1 467.5,2493.0 467.5,2496.6 458.7,2501.7" fill="#4a4a4c"/>
<polygon points="415.2,2501.0 420.7,2504.2 420.7,2507.8 415.2,2504.6" fill="#4a4a4c"/>
<polygon points="421.1,2471.1 439.9,2481.9 439.9,2493.9 421.1,2483.1" fill="#eec283"/>
<polygon points="439.9,2481.9 459.1,2470.8 459.1,2482.8 439.9,2493.9" fill="#e2ae69"/>
<polygon points="421.1,2471.1 439.9,2481.9 459.1,2470.8 440.3,2460.0" fill="#f4d3a0"/>
<polygon points="428.2,2475.2 432.8,2477.8 452.0,2466.7 447.4,2464.1" fill="#4d4d50"/>
<polygon points="428.2,2475.2 432.8,2477.8 432.8,2483.2 428.2,2480.6" fill="#3f3f42"/>
<polygon points="442.2,2483.2 448.3,2479.7 448.3,2484.7 442.2,2488.3" fill="#fff"/>
<polygon points="451.8,2481.6 456.0,2479.2 456.0,2482.8 451.8,2485.2" fill="#4a4a4c"/>
<polygon points="423.9,2478.7 428.6,2481.4 428.6,2485.0 423.9,2482.3" fill="#4a4a4c"/>
<path d="M611 2440 L646 2442 L650 2480 L656 2522 L643 2524 L630 2470 L624 2500 L616 2524 L603 2521 L606 2480 Z" fill="#21709a"/>
<path d="M599 2521 L615 2524 Q622 2533 614 2533 L600 2528 Z" fill="#47474b"/>
<path d="M640 2524 L655 2522 Q664 2532 655 2533 L640 2529 Z" fill="#47474b"/>
<path d="M608 2394 Q622 2384 644 2392 Q654 2400 652 2420 L648 2446 L610 2444 L606 2415 Z" fill="#f28c1f"/>
<path d="M606 2400 L612 2430 L640 2452 L646 2444 L622 2424 L620 2400 Z" fill="#f7a23a"/>
<path d="M634 2440 L650 2452 L655 2446 L642 2434 Z" fill="#f9c9b2"/>
<rect x="626" y="2379" width="8" height="9" fill="#f9c9b2"/>
<ellipse cx="632" cy="2373" rx="8.5" ry="10" fill="#f9c9b2"/>
<path d="M621 2368 Q622 2356 634 2357 Q645 2358 645 2369 L653 2376 Q650 2380 640 2375 Q630 2370 622 2374 Z" fill="#2c5f8a"/>
<polygon points="640,2438 652,2432 664,2462 652,2468" fill="#3a3a3e"/>
<polygon points="643,2440 651,2436 660,2460 652,2464" fill="#f2f2f2"/>
<polygon points="640,2436 650,2431 654,2438 644,2443" fill="#f28c1f"/>
<polygon points="642.0,2422.2 652.0,2428.0 652.0,2438.0 642.0,2432.2" fill="#eec283"/>
<polygon points="652.0,2428.0 664.0,2421.1 664.0,2431.1 652.0,2438.0" fill="#e2ae69"/>
<polygon points="642.0,2422.2 652.0,2428.0 664.0,2421.1 654.0,2415.3" fill="#f4d3a0"/>
<polygon points="645.8,2424.4 648.2,2425.8 660.2,2418.9 657.8,2417.5" fill="#4d4d50"/>
<polygon points="645.8,2424.4 648.2,2425.8 648.2,2430.3 645.8,2428.9" fill="#3f3f42"/>
<path d="M648 2408 L662 2420 L658 2426 L646 2418 Z" fill="#f9c9b2"/>
</g>
<line x1="138.5" y1="2948.2" x2="138.5" y2="2965.4" stroke="#cfcfcf" stroke-width="2" stroke-dasharray="14 8"/>
<line x1="223.3" y1="2931.2" x2="223.3" y2="2965.4" stroke="#cfcfcf" stroke-width="2" stroke-dasharray="14 8"/>
<line x1="307.5" y1="2909.2" x2="307.5" y2="2965.4" stroke="#cfcfcf" stroke-width="2" stroke-dasharray="14 8"/>
<line x1="391" y1="2890.3" x2="391" y2="2965.4" stroke="#cfcfcf" stroke-width="2" stroke-dasharray="14 8"/>
<line x1="475.6" y1="2867.3" x2="475.6" y2="2965.4" stroke="#cfcfcf" stroke-width="2" stroke-dasharray="14 8"/>
<line x1="560.7" y1="2839.2" x2="560.7" y2="2965.4" stroke="#cfcfcf" stroke-width="2" stroke-dasharray="14 8"/>
<line x1="644.8" y1="2809.8" x2="644.8" y2="2965.4" stroke="#cfcfcf" stroke-width="2" stroke-dasharray="14 8"/>
<line x1="728.5" y1="2803.1" x2="728.5" y2="2965.4" stroke="#cfcfcf" stroke-width="2" stroke-dasharray="14 8"/>
<line x1="810.5" y1="2553" x2="810.5" y2="2965.4" stroke="#cfcfcf" stroke-width="2" stroke-dasharray="14 8"/>
<line x1="897.5" y1="2508.3" x2="897.5" y2="2965.4" stroke="#cfcfcf" stroke-width="2" stroke-dasharray="14 8"/>
<line x1="981.7" y1="2469.6" x2="981.7" y2="2965.4" stroke="#cfcfcf" stroke-width="2" stroke-dasharray="14 8"/>
<line x1="1067" y1="2419.1" x2="1067" y2="2965.4" stroke="#cfcfcf" stroke-width="2" stroke-dasharray="14 8"/>
<rect x="92" y="2964.4" width="1062" height="2" fill="#222"/>
<polyline points="138.5,2936.2 223.3,2919.2 307.5,2897.2 391,2878.3 475.6,2855.3 560.7,2827.2 644.8,2797.8 728.5,2791.1 810.5,2541 897.5,2496.3 981.7,2457.6 1067,2407.1" fill="none" stroke="#9a2273" stroke-width="15.5" stroke-linejoin="miter" stroke-linecap="round"/>
<polyline points="138.5,2936.2 223.3,2919.2 307.5,2897.2 391,2878.3 475.6,2855.3 560.7,2827.2 644.8,2797.8 728.5,2791.1 810.5,2541 897.5,2496.3 981.7,2457.6 1067,2407.1" fill="none" stroke="#b7cdf6" stroke-width="3.8" stroke-linejoin="round"/>
<circle cx="140.3" cy="2938.3999999999996" r="11.2" fill="#000" opacity="0.28"/>
<circle cx="138.5" cy="2936.2" r="11" fill="#8bd4f5"/>
<circle cx="225.10000000000002" cy="2921.3999999999996" r="11.2" fill="#000" opacity="0.28"/>
<circle cx="223.3" cy="2919.2" r="11" fill="#8bd4f5"/>
<circle cx="309.3" cy="2899.3999999999996" r="11.2" fill="#000" opacity="0.28"/>
<circle cx="307.5" cy="2897.2" r="11" fill="#8bd4f5"/>
<circle cx="392.8" cy="2880.5" r="11.2" fill="#000" opacity="0.28"/>
<circle cx="391" cy="2878.3" r="11" fill="#8bd4f5"/>
<circle cx="477.40000000000003" cy="2857.5" r="11.2" fill="#000" opacity="0.28"/>
<circle cx="475.6" cy="2855.3" r="11" fill="#8bd4f5"/>
<circle cx="562.5" cy="2829.3999999999996" r="11.2" fill="#000" opacity="0.28"/>
<circle cx="560.7" cy="2827.2" r="11" fill="#8bd4f5"/>
<circle cx="646.5999999999999" cy="2800.0" r="11.2" fill="#000" opacity="0.28"/>
<circle cx="644.8" cy="2797.8" r="11" fill="#8bd4f5"/>
<circle cx="730.3" cy="2793.2999999999997" r="11.2" fill="#000" opacity="0.28"/>
<circle cx="728.5" cy="2791.1" r="11" fill="#8bd4f5"/>
<circle cx="812.3" cy="2543.2" r="11.2" fill="#000" opacity="0.28"/>
<circle cx="810.5" cy="2541" r="11" fill="#8bd4f5"/>
<circle cx="899.3" cy="2498.5" r="11.2" fill="#000" opacity="0.28"/>
<circle cx="897.5" cy="2496.3" r="11" fill="#8bd4f5"/>
<circle cx="983.5" cy="2459.7999999999997" r="11.2" fill="#000" opacity="0.28"/>
<circle cx="981.7" cy="2457.6" r="11" fill="#8bd4f5"/>
<circle cx="1068.8" cy="2409.2999999999997" r="11.2" fill="#000" opacity="0.28"/>
<circle cx="1067" cy="2407.1" r="11" fill="#8bd4f5"/>
<text x="0" y="0" font-size="32" font-weight="normal" font-style="normal" fill="#9c9c9c" text-anchor="start" textLength="116" lengthAdjust="spacingAndGlyphs" transform="translate(144.2,2907.9) rotate(-90)">1.095,35</text>
<text x="0" y="0" font-size="32" font-weight="normal" font-style="normal" fill="#9c9c9c" text-anchor="start" textLength="116" lengthAdjust="spacingAndGlyphs" transform="translate(230.4,2888.2) rotate(-90)">1.152,09</text>
<text x="0" y="0" font-size="32" font-weight="normal" font-style="normal" fill="#9c9c9c" text-anchor="start" textLength="116" lengthAdjust="spacingAndGlyphs" transform="translate(318.7,2865.0) rotate(-90)">1.224,87</text>
<text x="0" y="0" font-size="32" font-weight="normal" font-style="normal" fill="#9c9c9c" text-anchor="start" textLength="116" lengthAdjust="spacingAndGlyphs" transform="translate(396.5,2846.1) rotate(-90)">1.292,96</text>
<text x="0" y="0" font-size="32" font-weight="normal" font-style="normal" fill="#9c9c9c" text-anchor="start" textLength="116" lengthAdjust="spacingAndGlyphs" transform="translate(486.1,2823.5) rotate(-90)">1.368,66</text>
<text x="0" y="0" font-size="32" font-weight="normal" font-style="normal" fill="#9c9c9c" text-anchor="start" textLength="116" lengthAdjust="spacingAndGlyphs" transform="translate(564.9,2797.5) rotate(-90)">1.466,96</text>
<text x="0" y="0" font-size="32" font-weight="normal" font-style="normal" fill="#9c9c9c" text-anchor="start" textLength="134" lengthAdjust="spacingAndGlyphs" transform="translate(647.4,2769.0) rotate(-90)">1.565,704</text>
<text x="0" y="0" font-size="32" font-weight="normal" font-style="normal" fill="#9c9c9c" text-anchor="start" textLength="116" lengthAdjust="spacingAndGlyphs" transform="translate(718.4,2766.8) rotate(-90)">1.594,14</text>
<text x="0" y="0" font-size="32" font-weight="normal" font-style="normal" fill="#9c9c9c" text-anchor="start" textLength="134" lengthAdjust="spacingAndGlyphs" transform="translate(813.8,2517.5) rotate(-90)">2.443,187</text>
<text x="0" y="0" font-size="32" font-weight="normal" font-style="normal" fill="#9c9c9c" text-anchor="start" textLength="134" lengthAdjust="spacingAndGlyphs" transform="translate(905.1,2468.3) rotate(-90)">2.602,382</text>
<text x="0" y="0" font-size="32" font-weight="normal" font-style="normal" fill="#9c9c9c" text-anchor="start" textLength="134" lengthAdjust="spacingAndGlyphs" transform="translate(989.2,2427.0) rotate(-90)">2.727,672</text>
<text x="0" y="0" font-size="39.5" font-weight="bold" font-style="normal" fill="#111" text-anchor="start" textLength="173" lengthAdjust="spacingAndGlyphs" transform="translate(1074.3,2372) rotate(-90)">2.907,904</text>
<text x="0" y="0" font-size="35" font-weight="normal" font-style="italic" fill="#111" text-anchor="start" textLength="115" lengthAdjust="spacingAndGlyphs" transform="translate(1112.7,2371.2) rotate(-90)">tỷ đồng</text>
<text x="0" y="0" font-size="37.5" font-weight="normal" font-style="normal" fill="#111" text-anchor="middle" transform="translate(127.0,3020.5) rotate(-35) translate(0,13)">2013</text>
<text x="0" y="0" font-size="37.5" font-weight="normal" font-style="normal" fill="#111" text-anchor="middle" transform="translate(211.8,3020.5) rotate(-35) translate(0,13)">2014</text>
<text x="0" y="0" font-size="37.5" font-weight="normal" font-style="normal" fill="#111" text-anchor="middle" transform="translate(296.0,3020.5) rotate(-35) translate(0,13)">2015</text>
<text x="0" y="0" font-size="37.5" font-weight="normal" font-style="normal" fill="#111" text-anchor="middle" transform="translate(379.5,3020.5) rotate(-35) translate(0,13)">2016</text>
<text x="0" y="0" font-size="37.5" font-weight="normal" font-style="normal" fill="#111" text-anchor="middle" transform="translate(464.1,3020.5) rotate(-35) translate(0,13)">2017</text>
<text x="0" y="0" font-size="37.5" font-weight="normal" font-style="normal" fill="#111" text-anchor="middle" transform="translate(549.2,3020.5) rotate(-35) translate(0,13)">2018</text>
<text x="0" y="0" font-size="37.5" font-weight="normal" font-style="normal" fill="#111" text-anchor="middle" transform="translate(633.3,3020.5) rotate(-35) translate(0,13)">2019</text>
<text x="0" y="0" font-size="37.5" font-weight="normal" font-style="normal" fill="#111" text-anchor="middle" transform="translate(717.0,3020.5) rotate(-35) translate(0,13)">2020</text>
<text x="0" y="0" font-size="37.5" font-weight="normal" font-style="normal" fill="#111" text-anchor="middle" transform="translate(799.0,3020.5) rotate(-35) translate(0,13)">2021</text>
<text x="0" y="0" font-size="37.5" font-weight="normal" font-style="normal" fill="#111" text-anchor="middle" transform="translate(886.0,3020.5) rotate(-35) translate(0,13)">2022</text>
<text x="0" y="0" font-size="37.5" font-weight="normal" font-style="normal" fill="#111" text-anchor="middle" transform="translate(970.2,3020.5) rotate(-35) translate(0,13)">2023</text>
<text x="0" y="0" font-size="37.5" font-weight="normal" font-style="normal" fill="#111" text-anchor="middle" transform="translate(1055.5,3020.5) rotate(-35) translate(0,13)">2024</text>
<path d="M0 3200 H298.4 L319.5 3231.2 H1200 V3249 H0 Z" fill="#4bafd6"/>
<text x="36.7" y="3182" font-size="29.5" font-weight="normal" font-style="italic" fill="#111" text-anchor="start" textLength="98.7" lengthAdjust="spacingAndGlyphs" >Nguồn:</text>
<text x="145.2" y="3182" font-size="29.5" font-weight="normal" font-style="italic" fill="#111" text-anchor="start" textLength="67.2" lengthAdjust="spacingAndGlyphs" >Tổng</text>
<text x="220.9" y="3182" font-size="29.5" font-weight="normal" font-style="italic" fill="#111" text-anchor="start" textLength="40.7" lengthAdjust="spacingAndGlyphs" >cục</text>
<text x="270.5" y="3182" font-size="29.5" font-weight="normal" font-style="italic" fill="#111" text-anchor="start" textLength="84.9" lengthAdjust="spacingAndGlyphs" >Thống</text>
<text x="364.7" y="3182" font-size="29.5" font-weight="normal" font-style="italic" fill="#111" text-anchor="start" textLength="38.2" lengthAdjust="spacingAndGlyphs" >kê</text>
<text x="30.8" y="3231.2" font-size="27" font-weight="normal" font-style="italic" fill="#eaf7fd" text-anchor="start" textLength="65.9" lengthAdjust="spacingAndGlyphs" >http://</text>
<text x="103.1" y="3231.2" font-size="27" font-weight="normal" font-style="italic" fill="#eaf7fd" text-anchor="start" textLength="166.1" lengthAdjust="spacingAndGlyphs" >infographics.vn</text>
<g id="logo">
<text x="962.8" y="3200" font-size="49" fill="#2f52a6" text-anchor="middle" font-weight="bold">©</text>
<text x="999.4" y="3203.6" font-size="51" font-weight="bold" fill="#2f52a6" stroke="#2f52a6" stroke-width="5" stroke-linejoin="miter" textLength="33.4" lengthAdjust="spacingAndGlyphs">T</text>
<text x="1036.9" y="3203.6" font-size="51" font-weight="bold" fill="#2f52a6" stroke="#2f52a6" stroke-width="5" stroke-linejoin="miter" textLength="32.9" lengthAdjust="spacingAndGlyphs">T</text>
<text x="1070.4" y="3203.6" font-size="51" font-weight="bold" fill="#2f52a6" stroke="#2f52a6" stroke-width="5" stroke-linejoin="miter" textLength="37.6" lengthAdjust="spacingAndGlyphs">X</text>
<text x="1141.4" y="3203.6" font-size="51" font-weight="bold" fill="#2f52a6" stroke="#2f52a6" stroke-width="5" stroke-linejoin="miter" textLength="32.2" lengthAdjust="spacingAndGlyphs">N</text>
<text x="1107.4" y="3203.6" font-size="51" font-weight="bold" fill="#d4212b" stroke="#d4212b" stroke-width="5" stroke-linejoin="miter" textLength="31.2" lengthAdjust="spacingAndGlyphs">V</text>
<circle cx="1118.6" cy="3188.3" r="9.6" fill="#6d8fd0" stroke="#fff" stroke-width="1"/>
<path d="M1112 3184 q4 -4 8 -2 q3 3 0 6 q-2 4 -6 2 q-3 -2 -2 -6 Z" fill="#e9eef8"/>
<ellipse cx="1119" cy="3190.5" rx="24" ry="6.5" fill="none" stroke="#d4212b" stroke-width="1.6" transform="rotate(-17 1119 3190.5)"/>
<text x="1060" y="3215.6" font-size="12.2" font-weight="bold" fill="#d4212b" textLength="116" lengthAdjust="spacingAndGlyphs">Vietnam News Agency</text>
</g>
</svg>
</body></html>
